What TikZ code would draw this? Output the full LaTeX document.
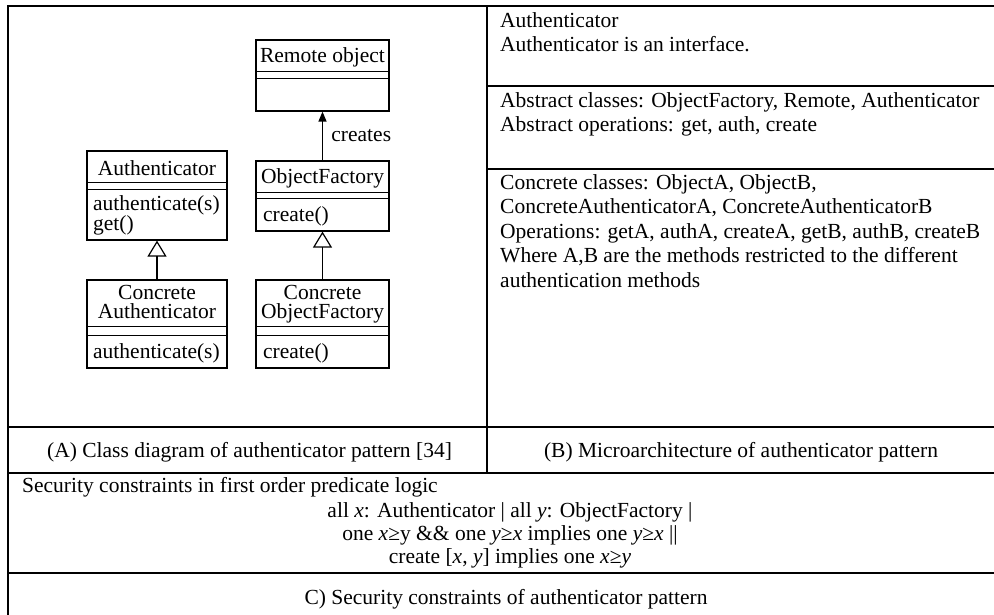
\documentclass[tikz,border=0pt]{standalone}
\usepackage{fontspec}
\setmainfont{Liberation Serif}
\usetikzlibrary{arrows.meta, positioning, calc}

\begin{document}
\begin{tikzpicture}[
    x=1pt, y=-1pt,
    font=\fontsize{21.5}{24.4}\selectfont,
    frame/.style={line width=1.5pt},
    cls/.style={rectangle, draw, line width=1.2pt, minimum width=133pt, inner sep=0pt},
    sep/.style={line width=1.2pt},
    clsname/.style={anchor=base, align=center, inner sep=0pt, font=\fontsize{21.5}{19.5}\selectfont},
    ops/.style={anchor=base west, align=left, inner sep=0pt, font=\fontsize{21.5}{20}\selectfont},
    txt/.style={anchor=base west, align=left, inner sep=0pt},
    caption/.style={anchor=base, inner sep=0pt},
    inherit/.style={-{Triangle[open, length=16pt, width=19pt]}, line width=1.2pt},
    assoc/.style={-{Triangle[length=10pt, width=8pt]}, line width=1.2pt}
]
\useasboundingbox (0,0) rectangle (994,615);

% table rules
\draw[frame] (994,6) -- (8,6) -- (8,615);
\draw[frame] (487,6) -- (487,473);
\draw[frame] (487,86) -- (994,86) (487,169) -- (994,169);
\draw[frame] (8,427) -- (994,427) (8,473) -- (994,473) (7,573) -- (994,573);

% (A) class diagram (base anchor = last line)
\node[cls, minimum height=71pt] (remote) at (322.5,75.5) {};
\node[clsname] (remotename) at (322.5,63) {Remote object};

\node[cls, minimum width=140pt, minimum height=89pt] (auth) at (157,195.5) {};
\node[clsname] (authname) at (157,176) {Authenticator};
\node[ops] (authops) at (93,230) {authenticate(s)\\get()};

\node[cls, minimum height=70pt] (factory) at (322.5,196) {};
\node[clsname] (factoryname) at (322.5,183) {ObjectFactory};
\node[ops] (factoryops) at (263,222) {create()};

\node[cls, minimum width=140pt, minimum height=88pt] (cauth) at (157,324) {};
\node[clsname] (cauthname) at (157,318.5) {Concrete\\Authenticator};
\node[ops] (cauthops) at (93,358) {authenticate(s)};

\node[cls, minimum height=88pt] (cfactory) at (322.5,324) {};
\node[clsname] (cfactoryname) at (322.5,318.5) {Concrete\\ObjectFactory};
\node[ops] (cfactoryops) at (263,358) {create()};

\foreach \c/\a/\b in {remote/32/39, auth/32/39, factory/32/38, cauth/47/56, cfactory/47/56}
  \draw[sep] ($(\c.north west)+(0,\a)$) -- ($(\c.north east)+(0,\a)$)
             ($(\c.north west)+(0,\b)$) -- ($(\c.north east)+(0,\b)$);

\draw[inherit] (cauth) -- (auth);
\draw[inherit] (cfactory) -- (factory);
\draw[assoc] (factory) -- node[right=5pt] (creates) {creates} (remote);

% (B) microarchitecture
\node[txt] (iface) at (500,52) {Authenticator\\Authenticator is an interface.};
\node[txt] (abstract) at (500,132) {Abstract classes: ObjectFactory, Remote, Authenticator\\Abstract operations: get, auth, create};
\node[txt] (concrete) at (500,287) {Concrete classes: ObjectA, ObjectB,\\ConcreteAuthenticatorA, ConcreteAuthenticatorB\\Operations: getA, authA, createA, getB, authB, createB\\Where A,B are the methods restricted to the different\\authentication methods};

% captions
\node[caption] (capA) at (249.5,457) {(A) Class diagram of authenticator pattern [34]};
\node[caption] (capB) at (741,457) {(B) Microarchitecture of authenticator pattern};

% (C) constraints
\node[txt] (fol) at (22,492) {Security constraints in first order predicate logic};
\node[caption, align=center, font=\fontsize{21.5}{23}\selectfont] (formula) at (510,563)
  {all \textit{x}: Authenticator | all \textit{y}: ObjectFactory |\\
   one \textit{x}≥y \&\& one \textit{y}≥\textit{x} implies one \textit{y}≥\textit{x} ||\\
   create [\textit{x}, \textit{y}] implies one \textit{x}≥\textit{y}};
\node[caption] (capC) at (506,604) {C) Security constraints of authenticator pattern};
\end{tikzpicture}
\end{document}
